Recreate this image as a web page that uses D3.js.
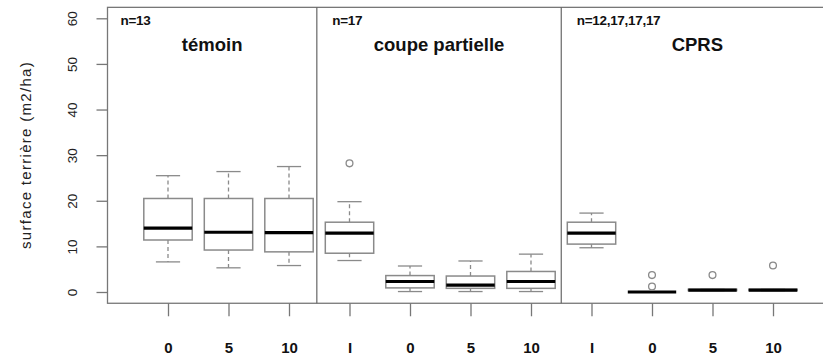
<!DOCTYPE html>
<html>
<head>
<meta charset="utf-8">
<script src="https://cdn.jsdelivr.net/npm/d3@7"></script>
<style>
  body { margin: 0; background: #fff; }
  svg { display: block; font-family: "Liberation Sans", Arial, sans-serif; }
</style>
</head>
<body>
<svg id="chart"></svg>
<script>
// Box statistics per position: [low whisker, Q1, median, Q3, high whisker]
const tickLabels = ["0", "5", "10", "I", "0", "5", "10", "I", "0", "5", "10"];
const boxStats = [
  [6.6, 11.4, 14.0, 20.5, 25.5],
  [5.3, 9.2, 13.1, 20.5, 26.4],
  [5.8, 8.8, 13.0, 20.5, 27.5],
  [6.9, 8.5, 12.9, 15.3, 19.8],
  [0.1, 0.9, 2.3, 3.6, 5.7],
  [0.1, 0.8, 1.5, 3.5, 6.8],
  [0.1, 0.8, 2.3, 4.5, 8.3],
  [9.7, 10.5, 12.9, 15.3, 17.3],
  [0, 0, 0, 0, 0],
  [0.3, 0.3, 0.4, 0.6, 0.6],
  [0.3, 0.3, 0.4, 0.6, 0.6]
];
// outliers: [position, value]
const outliers = [[4, 28.2], [9, 3.7], [9, 1.2], [10, 3.7], [11, 5.8]];
const panelTitles = ["témoin", "coupe partielle", "CPRS"];
const panelCounts = ["n=13", "n=17", "n=12,17,17,17"];
const panelBreaks = [0, 3.46, 7.5, 12];
const yTicks = [0, 10, 20, 30, 40, 50, 60];

const W = 823, H = 355;
const svg = d3.select("#chart").attr("width", W).attr("height", H);

const x = d3.scaleLinear().domain([0, 12]).range([107.5, 833.5]);
const y = d3.scaleLinear().domain([0, 60]).range([292, 18.3]);
const plotTop = y(62.4), plotBottom = y(-2.47);
const boxHalf = 0.4, capHalf = 0.2;
const grey = "#8a8a8a";

// plot frame
svg.append("rect")
  .attr("x", x(0)).attr("y", plotTop)
  .attr("width", x(12) - x(0)).attr("height", plotBottom - plotTop)
  .attr("fill", "none").attr("stroke", "#777").attr("stroke-width", 1.3);

// panel dividers
svg.selectAll(".divider")
  .data(panelBreaks.slice(1, -1))
  .enter().append("line")
  .attr("x1", (d) => x(d)).attr("x2", (d) => x(d))
  .attr("y1", plotTop).attr("y2", plotBottom)
  .attr("stroke", "#666").attr("stroke-width", 1.2);

// y axis
const yAxis = svg.append("g")
  .attr("transform", "translate(" + x(0) + ",0)")
  .call(d3.axisLeft(y).tickValues(yTicks).tickSize(11).tickPadding(0).tickFormat(d3.format("d")));
yAxis.select(".domain").remove();
yAxis.selectAll("line").attr("stroke", "#777").attr("stroke-width", 1.3);
yAxis.selectAll("text")
  .attr("x", null).attr("dy", null)
  .attr("transform", "translate(-35,0) rotate(-90)")
  .attr("text-anchor", "middle")
  .attr("dominant-baseline", "central")
  .attr("font-size", 13.5).attr("fill", "#222");

svg.append("text")
  .attr("transform", "translate(25,155) rotate(-90)")
  .attr("text-anchor", "middle").attr("dominant-baseline", "central")
  .attr("font-size", 15).attr("letter-spacing", 1.3).attr("fill", "#222")
  .text("surface terrière (m2/ha)");

// x axis
const positions = d3.range(1, 12);
const xAxis = svg.append("g")
  .attr("transform", "translate(0," + plotBottom + ")")
  .call(d3.axisBottom(x).tickValues(positions).tickSize(13).tickPadding(0)
    .tickFormat((d) => tickLabels[d - 1]));
xAxis.select(".domain").remove();
xAxis.selectAll("line").attr("stroke", "#777").attr("stroke-width", 1.3);
xAxis.selectAll("text")
  .attr("y", 49.5).attr("dy", null)
  .attr("font-size", 15).attr("font-weight", "bold").attr("fill", "#111");

// boxes
const boxes = svg.selectAll(".box")
  .data(boxStats.map((s, i) => ({ pos: i + 1, s })))
  .enter().append("g").attr("class", "box");

// whiskers
boxes.append("line")
  .attr("x1", (d) => x(d.pos)).attr("x2", (d) => x(d.pos))
  .attr("y1", (d) => y(d.s[3])).attr("y2", (d) => y(d.s[4]))
  .attr("stroke", grey).attr("stroke-dasharray", "4,3").attr("stroke-width", 1.3);
boxes.append("line")
  .attr("x1", (d) => x(d.pos)).attr("x2", (d) => x(d.pos))
  .attr("y1", (d) => y(d.s[1])).attr("y2", (d) => y(d.s[0]))
  .attr("stroke", grey).attr("stroke-dasharray", "4,3").attr("stroke-width", 1.3);
// caps
[0, 4].forEach((k) => {
  boxes.append("line")
    .attr("x1", (d) => x(d.pos - capHalf)).attr("x2", (d) => x(d.pos + capHalf))
    .attr("y1", (d) => y(d.s[k])).attr("y2", (d) => y(d.s[k]))
    .attr("stroke", grey).attr("stroke-width", 1.3);
});
// box body
boxes.append("rect")
  .attr("x", (d) => x(d.pos - boxHalf))
  .attr("width", x(boxHalf * 2) - x(0))
  .attr("y", (d) => y(d.s[3]))
  .attr("height", (d) => y(d.s[1]) - y(d.s[3]))
  .attr("fill", "#fff").attr("stroke", grey).attr("stroke-width", 1.5);
// median
boxes.append("line")
  .attr("x1", (d) => x(d.pos - boxHalf)).attr("x2", (d) => x(d.pos + boxHalf))
  .attr("y1", (d) => y(d.s[2])).attr("y2", (d) => y(d.s[2]))
  .attr("stroke", "#000").attr("stroke-width", 3.2);

// outliers
svg.selectAll(".outlier")
  .data(outliers)
  .enter().append("circle")
  .attr("cx", (d) => x(d[0])).attr("cy", (d) => y(d[1]))
  .attr("r", 3.4)
  .attr("fill", "none").attr("stroke", grey).attr("stroke-width", 1.3);

// panel titles and counts
svg.selectAll(".ptitle")
  .data(panelTitles)
  .enter().append("text")
  .attr("x", (d, i) => (x(panelBreaks[i]) + x(panelBreaks[i + 1])) / 2)
  .attr("y", 51)
  .attr("text-anchor", "middle")
  .attr("font-size", 18.5).attr("font-weight", "bold").attr("fill", "#111")
  .text((d) => d);

svg.selectAll(".pcount")
  .data(panelCounts)
  .enter().append("text")
  .attr("x", (d, i) => x(panelBreaks[i]) + 13 + (i > 0 ? 2.5 : 0))
  .attr("y", 25)
  .attr("font-size", 13.5).attr("font-weight", "bold").attr("fill", "#111")
  .attr("letter-spacing", -0.3)
  .text((d) => d);
</script>
</body>
</html>
